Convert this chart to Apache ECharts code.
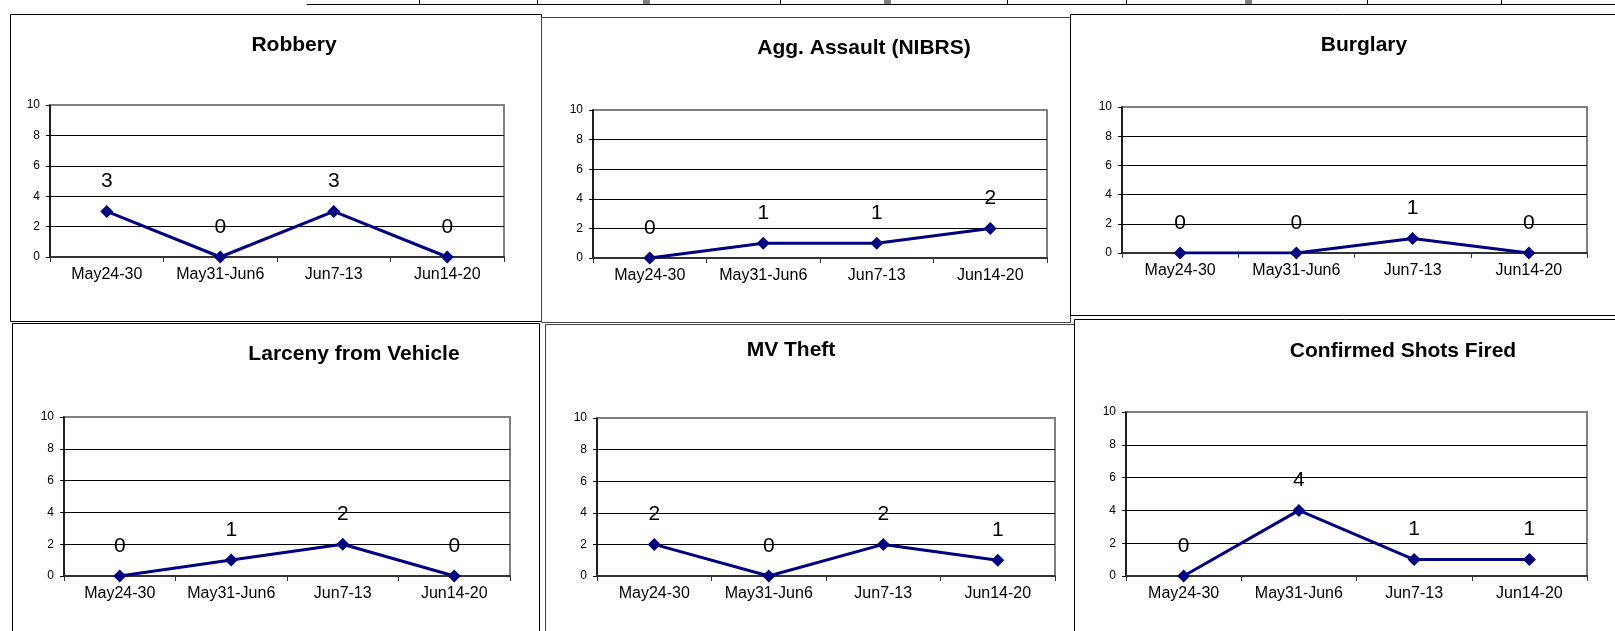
<!DOCTYPE html>
<html>
<head>
<meta charset="utf-8">
<title>Weekly crime charts</title>
<script src="https://cdn.jsdelivr.net/npm/echarts@6/dist/echarts.min.js"></script>
<style>
  html, body { margin: 0; padding: 0; background: #fff; }
  #chart { width: 1615px; height: 631px; }
</style>
</head>
<body>
<div id="chart"></div>
<script>
const categories = ["May24-30", "May31-Jun6", "Jun7-13", "Jun14-20"];

const robbery = [3, 0, 3, 0];
const aggAssault = [0, 1, 1, 2];
const burglary = [0, 0, 1, 0];
const larcenyFromVehicle = [0, 1, 2, 0];
const mvTheft = [2, 0, 2, 1];
const shotsFired = [0, 4, 1, 1];

const chartTitles = [
  "Robbery",
  "Agg. Assault (NIBRS)",
  "Burglary",
  "Larceny from Vehicle",
  "MV Theft",
  "Confirmed Shots Fired",
];
const seriesValues = [robbery, aggAssault, burglary, larcenyFromVehicle, mvTheft, shotsFired];

const yMin = 0;
const yMax = 10;
const yStep = 2;

// plot rects (left, top, right, bottom) and title centres of each panel
const panels = [
  { l: 50, t: 105, r: 504, b: 257, tx: 294, ty: 47 },
  { l: 593, t: 110, r: 1047, b: 258, tx: 864, ty: 50 },
  { l: 1122, t: 107, r: 1587, b: 253, tx: 1364, ty: 47 },
  { l: 64, t: 417, r: 510, b: 576, tx: 354, ty: 356 },
  { l: 597, t: 418, r: 1055, b: 576, tx: 791, ty: 352 },
  { l: 1126, t: 412, r: 1587, b: 576, tx: 1403, ty: 353 },
];

const FONT = "'Liberation Sans', Arial, sans-serif";
const NAVY = "#000080";

const chart = echarts.init(document.getElementById("chart"));

// the framed boxes around each chart and the table edge at the top
const frames = [
  [10, 14, 531, 307, "#000"],
  [541, 17, 529, 305, "#444"],
  [1070, 14, 560, 301, "#000"],
  [12, 323, 527, 320, "#000"],
  [545, 324, 529, 320, "#444"],
  [1074, 319, 560, 320, "#000"],
];
const graphics = frames.map((f) => ({
  type: "rect",
  silent: true,
  z: -10,
  shape: { x: f[0] + 0.5, y: f[1] + 0.5, width: f[2], height: f[3] },
  style: { fill: "#fff", stroke: f[4], lineWidth: 1 },
}));
graphics.push({
  type: "line",
  silent: true,
  shape: { x1: 307, y1: 4.5, x2: 1615, y2: 4.5 },
  style: { stroke: "#000", lineWidth: 1 },
});
[419, 537, 780, 1007, 1126, 1367, 1501].forEach((x) => {
  graphics.push({
    type: "line",
    silent: true,
    shape: { x1: x + 0.5, y1: 0, x2: x + 0.5, y2: 4 },
    style: { stroke: "#000", lineWidth: 1 },
  });
});
[643, 884, 1245].forEach((x) => {
  graphics.push({
    type: "rect",
    silent: true,
    shape: { x: x, y: 0, width: 7, height: 4 },
    style: { fill: "#808080" },
  });
});

const option = {
  animation: false,
  backgroundColor: "#fff",
  textStyle: { fontFamily: FONT },
  graphic: graphics,
  title: chartTitles.map((t, i) => ({
    text: t,
    left: panels[i].tx,
    top: panels[i].ty - 12,
    textAlign: "center",
    padding: 0,
    textStyle: { fontFamily: FONT, fontSize: 21, fontWeight: "bold", color: "#000" },
  })),
  grid: panels.map((p) => ({
    left: p.l,
    top: p.t,
    width: p.r - p.l,
    height: p.b - p.t,
    outerBoundsMode: "none",
    show: true,
    backgroundColor: "#fff",
    borderColor: "#808080",
    borderWidth: 2,
  })),
  xAxis: panels.map((p, i) => ({
    type: "category",
    gridIndex: i,
    data: categories,
    boundaryGap: true,
    axisLine: { show: true, lineStyle: { color: "#333", width: 2 } },
    axisTick: { show: true, length: 5, lineStyle: { color: "#333", width: 1 } },
    axisLabel: { interval: 0, margin: 10, color: "#000", fontSize: 16, fontFamily: FONT },
    splitLine: { show: false },
  })),
  yAxis: panels.map((p, i) => ({
    type: "value",
    gridIndex: i,
    min: yMin,
    max: yMax,
    interval: yStep,
    axisLine: { show: true, lineStyle: { color: "#000", width: 1.5 } },
    axisTick: { show: true, length: 4, lineStyle: { color: "#000" } },
    axisLabel: { margin: 10, color: "#000", fontSize: 12, fontFamily: FONT },
    splitLine: {
      show: true,
      lineStyle: { color: ["#000", "#000", "#000", "#000", "#000", "#808080"], width: 1 },
    },
  })),
  series: seriesValues.map((vals, i) => ({
    type: "line",
    name: chartTitles[i],
    xAxisIndex: i,
    yAxisIndex: i,
    data: vals,
    symbol: "diamond",
    symbolSize: 13,
    lineStyle: { color: NAVY, width: 3 },
    itemStyle: { color: NAVY },
    label: {
      show: true,
      position: "top",
      distance: 13,
      color: "#000",
      fontSize: 21,
      fontFamily: FONT,
    },
  })),
};

chart.setOption(option);
</script>
</body>
</html>
